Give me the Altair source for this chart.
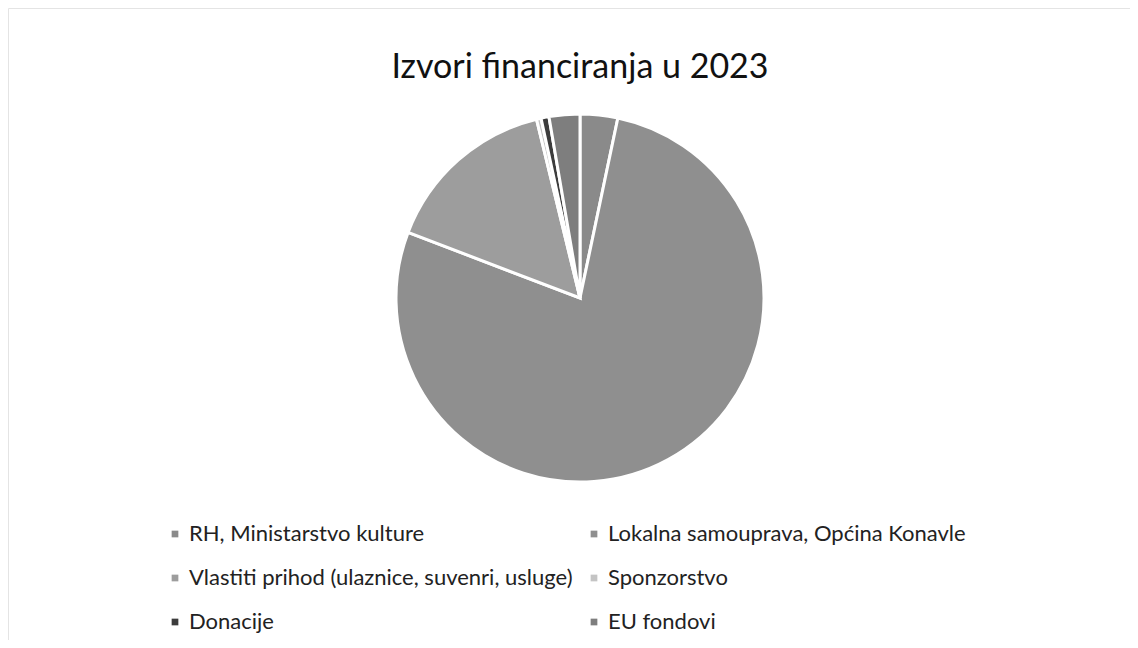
import altair as alt
import pandas as pd

categories = [
    "RH, Ministarstvo kulture",
    "Lokalna samouprava, Općina Konavle",
    "Vlastiti prihod (ulaznice, suvenri, usluge)",
    "Sponzorstvo",
    "Donacije",
    "EU fondovi",
]
shares = [3.3, 77.5, 15.4, 0.4, 0.7, 2.7]
colors = ["#8a8a8a", "#8f8f8f", "#9d9d9d", "#c4c4c4", "#3c3c3c", "#7e7e7e"]
title_text = "Izvori financiranja u 2023"

df = pd.DataFrame({"izvor": categories, "udio": shares, "idx": list(range(len(categories)))})

FONT = "Lato"

pie = alt.Chart(df).mark_arc(radius=184, stroke="white", strokeWidth=3).encode(
    theta=alt.Theta("udio:Q", stack=True),
    order=alt.Order("idx:Q"),
    x=alt.value(572),
    y=alt.value(290),
    color=alt.Color(
        "izvor:N",
        sort=categories,
        scale=alt.Scale(domain=categories, range=colors),
        legend=alt.Legend(
            title=None,
            orient="none",
            legendX=156,
            legendY=515,
            columns=2,
            direction="horizontal",
            symbolType="square",
            symbolSize=45,
            symbolStrokeWidth=0,
            labelFont=FONT,
            labelFontSize=22,
            labelColor="#222222",
            labelLimit=600,
            rowPadding=22,
            columnPadding=10,
            labelOffset=3,
        ),
    ),
)

title = alt.Chart(pd.DataFrame({"t": [title_text]})).mark_text(
    font=FONT, fontSize=34, color="#111111", align="center", baseline="middle"
).encode(text="t:N", x=alt.value(572), y=alt.value(60))

chart = (
    alt.layer(pie, title)
    .properties(
        width=1122,
        height=632,
        autosize=alt.AutoSizeParams(type="none"),
        padding=0,
        background="white",
    )
    .configure_view(stroke="#e4e4e4", strokeWidth=1)
)

chart.save("out.html", embed_options={"renderer": "svg", "actions": False})
